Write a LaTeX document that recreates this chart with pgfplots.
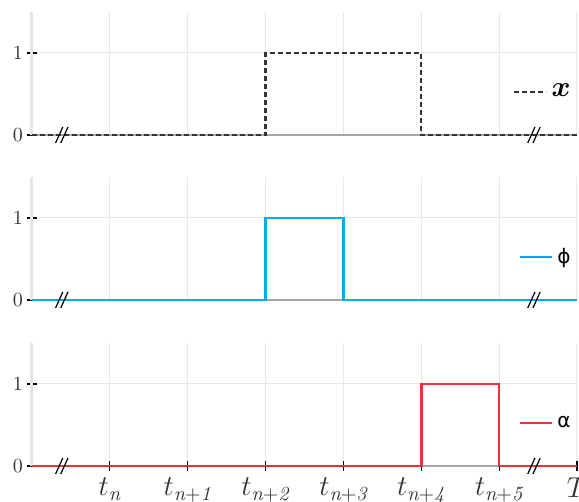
\documentclass[border=0pt]{standalone}
\usepackage{pgfplots}
\pgfplotsset{compat=1.18}
\usepackage{bm}
\usepackage{fontspec}
\newfontfamily\dejavu{DejaVu Sans}
\definecolor{darkline}{HTML}{333333}
\definecolor{cyanline}{HTML}{00AEEF}
\definecolor{redline}{HTML}{E8333A}
\newcommand{\brk}[1]{%
  \draw[black, line width=0.6pt] ([xshift=-3.2pt,yshift=-4pt]axis cs:#1,0) -- ++(3.6pt,8pt);
  \draw[black, line width=0.6pt] ([xshift=-0.6pt,yshift=-4pt]axis cs:#1,0) -- ++(3.6pt,8pt);}
\pgfplotsset{
  panel/.style={
    width=272.5pt, height=61.5pt, scale only axis,
    xmin=0, xmax=7, ymin=0, ymax=1.5,
    axis x line=bottom, axis y line=left,
    axis line style={-},
    x axis line style={draw=black!35, line width=0.8pt},
    y axis line style={draw=black!10, line width=1.5pt},
    xtick={1,...,7}, ytick={0,1},
    grid=major, grid style={draw=black!9, line width=0.5pt},
    tick style={draw=black, line width=0.6pt},
    tick align=center, major tick length=5pt,
    yticklabel style={font=\normalsize, color=black!80, xshift=1.5pt},
    clip=false,
    legend style={draw=none, fill=none, at={(1,0.35)}, anchor=east, xshift=-1pt,
      inner sep=0pt, font=\normalsize},
    legend cell align=left,
    legend image code/.code={\draw[##1] (0pt,0pt) -- (16pt,0pt);},
  },
  toppanel/.style={panel, xticklabels={}, xtick style={draw=none}},
}
\begin{document}
\begin{tikzpicture}
\useasboundingbox (0,0) rectangle (289.5pt,251pt);
% top panel: x
\begin{axis}[toppanel, at={(16pt,183.5pt)}, anchor=south west]
\addplot[darkline, line width=1.2pt, dash pattern=on 2.4pt off 1.6pt] coordinates {(0,0) (3,0) (3,1) (5,1) (5,0) (7,0)};
\addlegendentry{\Large$\bm{x}$}
\brk{0.385}
\brk{6.45}
\end{axis}
% middle panel: phi
\begin{axis}[toppanel, at={(16pt,101pt)}, anchor=south west]
\addplot[cyanline, line width=1.3pt] coordinates {(0,0) (3,0) (3,1) (4,1) (4,0) (7,0)};
\addlegendentry{\dejavu ϕ}
\brk{0.385}
\brk{6.45}
\end{axis}
% bottom panel: alpha
\begin{axis}[panel, at={(16pt,18pt)}, anchor=south west,
  xticklabels={$t_{\mathit{n}}$,$t_{\mathit{n+1}}$,$t_{\mathit{n+2}}$,$t_{\mathit{n+3}}$,$t_{\mathit{n+4}}$,$t_{\mathit{n+5}}$,$T$},
  xticklabel style={font=\Large, color=black!80}]
\addplot[redline, line width=1.3pt] coordinates {(0,0) (5,0) (5,1) (6,1) (6,0) (7,0)};
\addlegendentry{\dejavu α}
\brk{0.385}
\brk{6.45}
\end{axis}
\end{tikzpicture}
\end{document}
